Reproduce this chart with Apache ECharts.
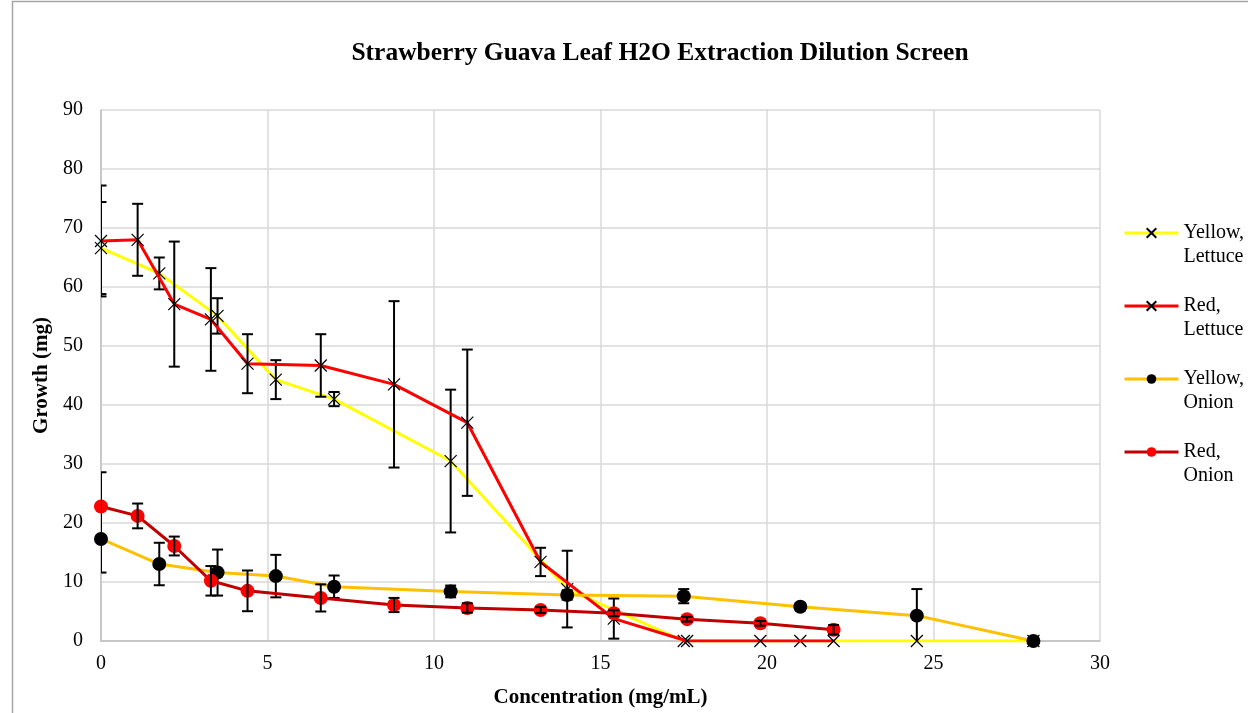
<!DOCTYPE html>
<html>
<head>
<meta charset="utf-8">
<script src="https://cdn.jsdelivr.net/npm/echarts@6/dist/echarts.min.js"></script>
<style>
html,body{margin:0;padding:0;background:#fff;}
#chart{width:1248px;height:713px;}
</style>
</head>
<body>
<div id="chart"></div>
<script>
// ---- data ----
const titleText = 'Strawberry Guava Leaf H2O Extraction Dilution Screen';
const xName = 'Concentration (mg/mL)';
const yName = 'Growth (mg)';
const seriesNames = ['Yellow,\nLettuce', 'Red,\nLettuce', 'Yellow,\nOnion', 'Red,\nOnion'];

const yellowX = [0, 1.75, 3.5, 5.25, 7, 10.5, 14, 17.5, 21, 24.5, 28];
const redX = [0, 1.1, 2.2, 3.3, 4.4, 6.6, 8.8, 11, 13.2, 15.4, 17.6, 19.8, 22];

const yellowLettuceY   = [66.6, 62.3, 55.1, 44.3, 41.0, 30.5, 8.8, 0, 0, 0, 0];
const yellowLettuceErr = [7.8, 2.7, 3.0, 3.3, 1.2, 12.1, 6.5, 0, 0, 0, 0];

const redLettuceY   = [67.8, 68.0, 57.1, 54.5, 47.0, 46.7, 43.5, 37.0, 13.4, 3.8, 0, 0, 0];
const redLettuceErr = [9.4, 6.1, 10.6, 8.7, 5.0, 5.3, 14.1, 12.4, 2.4, 3.4, 0, 0, 0];

const yellowOnionY   = [17.3, 13.05, 11.6, 11.0, 9.2, 8.4, 7.8, 7.6, 5.8, 4.3, 0];
const yellowOnionErr = [5.7, 3.6, 3.9, 3.6, 1.9, 1.0, 0.8, 1.2, 0.6, 4.5, 0];

const redOnionY   = [22.8, 21.2, 16.1, 10.2, 8.5, 7.3, 6.1, 5.6, 5.25, 4.7, 3.7, 3.0, 1.9];
const redOnionErr = [5.8, 2.1, 1.6, 2.5, 3.45, 2.3, 1.2, 0.8, 0.5, 0.5, 0.4, 0.4, 0.8];

// ---- build ----
const FONT = "'Liberation Serif','Times New Roman',serif";
const crossPath = 'path://M0,0L10,10M10,0L0,10';

function pts(xs, ys){ return xs.map((x,i)=>[x, ys[i]]); }
function errData(xs, ys, es){ return xs.map((x,i)=>[x, ys[i]-es[i], ys[i]+es[i]]).filter((d,i)=>es[i]>0); }

function errSeries(data, z){
  return {
    type:'custom', data:data, z:z, clip:true, silent:true,
    encode:{x:0, y:[1,2]},
    renderItem:function(params, api){
      const x = api.value(0);
      const lo = api.coord([x, api.value(1)]);
      const hi = api.coord([x, api.value(2)]);
      const hw = 5.5;
      const st = {stroke:'#000', lineWidth:2};
      return {type:'group', children:[
        {type:'line', shape:{x1:lo[0], y1:lo[1], x2:hi[0], y2:hi[1]}, style:st},
        {type:'line', shape:{x1:lo[0]-hw, y1:lo[1], x2:lo[0]+hw, y2:lo[1]}, style:st},
        {type:'line', shape:{x1:hi[0]-hw, y1:hi[1], x2:hi[0]+hw, y2:hi[1]}, style:st}
      ]};
    }
  };
}

function lineSeries(name, data, color, symbol, markerColor, z){
  const isCross = symbol === 'cross';
  return {
    name:name, type:'line', data:data, z:z,
    symbol: isCross ? crossPath : 'circle',
    symbolSize: isCross ? 12 : 14,
    showAllSymbol:true,
    lineStyle:{color:color, width:3},
    itemStyle: isCross ? {color:'rgba(0,0,0,0)', borderColor:'#000', borderWidth:1.2}
                       : {color:markerColor, borderWidth:0},
    color: color,
    emphasis:{disabled:true},
    animation:false
  };
}

const chart = echarts.init(document.getElementById('chart'), null, {renderer:'canvas'});
chart.setOption({
  animation:false,
  backgroundColor:'#fff',
  title:{
    text:titleText, left:655, top:35, textAlign:'center',
    textStyle:{fontFamily:FONT, fontSize:25.5, fontWeight:'bold', color:'#000'}
  },
  grid:{left:101, right:148, top:110, bottom:72},
  legend:{
    orient:'vertical', left:1123, top:197, padding:0, itemGap:1,
    itemWidth:54, itemHeight:12,
    data:seriesNames,
    formatter:function(name){ return '\n' + name; },
    lineStyle:{width:3},
    textStyle:{fontFamily:FONT, fontSize:20, color:'#000', lineHeight:24}
  },
  xAxis:{
    type:'value', min:0, max:30, interval:5,
    name:xName, nameLocation:'middle', nameGap:46,
    nameTextStyle:{fontFamily:FONT, fontSize:21, fontWeight:'bold', color:'#000'},
    axisLine:{show:true, onZero:false, lineStyle:{color:'#bfbfbf', width:1.5}},
    axisTick:{show:false},
    axisLabel:{fontFamily:FONT, fontSize:20, color:'#000', margin:13},
    splitLine:{show:true, lineStyle:{color:'#d9d9d9', width:1.5}}
  },
  yAxis:{
    type:'value', min:0, max:90, interval:10,
    name:yName, nameLocation:'middle', nameGap:47, nameRotate:90,
    nameTextStyle:{fontFamily:FONT, fontSize:21, fontWeight:'bold', color:'#000'},
    axisLine:{show:true, lineStyle:{color:'#bfbfbf', width:1.5}},
    axisTick:{show:false},
    axisLabel:{fontFamily:FONT, fontSize:20, color:'#000', margin:18},
    splitLine:{show:true, lineStyle:{color:'#d9d9d9', width:1.5}}
  },
  graphic:[{
    type:'rect', silent:true, z:-1,
    shape:{x:12.5, y:1.5, width:1400, height:900},
    style:{fill:'none', stroke:'#a6a6a6', lineWidth:1.5}
  }],
  series:[
    lineSeries(seriesNames[0], pts(yellowX, yellowLettuceY), '#ffff00', 'cross', null, 2),
    errSeries(errData(yellowX, yellowLettuceY, yellowLettuceErr), 3),
    lineSeries(seriesNames[1], pts(redX, redLettuceY), '#ff0000', 'cross', null, 4),
    errSeries(errData(redX, redLettuceY, redLettuceErr), 5),
    lineSeries(seriesNames[2], pts(yellowX, yellowOnionY), '#ffc000', 'circle', '#000000', 6),
    errSeries(errData(yellowX, yellowOnionY, yellowOnionErr), 7),
    lineSeries(seriesNames[3], pts(redX, redOnionY), '#c00000', 'circle', '#ff0000', 8),
    errSeries(errData(redX, redOnionY, redOnionErr), 9)
  ]
});
</script>
</body>
</html>
